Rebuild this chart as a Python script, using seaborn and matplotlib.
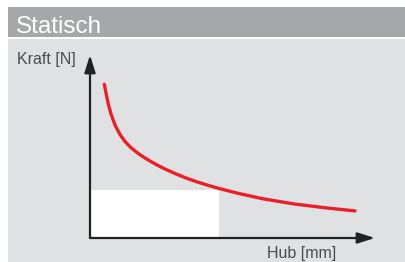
import matplotlib
matplotlib.use('Agg')
import matplotlib.pyplot as plt
from matplotlib.patches import Rectangle
import pandas as pd
import seaborn as sns

# - data (Hub / Kraft, arbitrary units) - #
hub = [14.3, 16, 18.3, 21, 25, 30, 35, 41, 48.3, 55, 61.7, 68, 75, 85, 95,
       105, 117, 128, 148, 172, 203, 237, 265]
kraft = [153.7, 145, 134, 124, 113, 103.5, 96.5, 90.3, 84.5, 80, 76, 72.5, 69,
         64.5, 60.4, 56.8, 53, 49.8, 44.7, 39.4, 34.2, 30, 27.1]

# white box in the lower left corner
box_hub = [0, 129]
box_kraft = [0, 48]

title = 'Statisch'
ylabel = 'Kraft [N]'
xlabel = 'Hub [mm]'

W, H = 405, 262

sns.set_style('white')
plt.rcParams['font.family'] = ['Liberation Sans', 'DejaVu Sans']

fig = plt.figure(figsize=(W / 100, H / 100), dpi=100)
fig.patch.set_facecolor('white')

# header bar and body panel (figure pixels), behind the axes
def px_rect(x0, y0, x1, y1, color):
    fig.patches.append(Rectangle((x0 / W, 1 - y1 / H), (x1 - x0) / W, (y1 - y0) / H,
                                 transform=fig.transFigure, facecolor=color,
                                 edgecolor='none', zorder=-5))

px_rect(8, 7, W, 37, '#a6a7aa')
px_rect(8, 39, W, H, '#e0e1e3')

fig.text(16 / W, 1 - 33 / H, title, color='white', fontsize=17.5, va='baseline', ha='left')

ax = fig.add_axes([90 / W, 24 / H, 285 / W, 183 / H])
ax.patch.set_alpha(0)

ax.add_patch(Rectangle((box_hub[0], box_kraft[0]), box_hub[1] - box_hub[0],
                       box_kraft[1] - box_kraft[0], facecolor='white',
                       edgecolor='none', zorder=1))

df = pd.DataFrame({'Hub': hub, 'Kraft': kraft})
sns.lineplot(data=df, x='Hub', y='Kraft', ax=ax, color='#e8202a', lw=2.4,
             zorder=3, solid_capstyle='round', solid_joinstyle='round')
ax.set_xlim(0, 285)
ax.set_ylim(0, 183)
ax.set_axis_off()

arrow = dict(arrowstyle='-|>,head_length=0.7,head_width=0.22', color='#222222',
             lw=1.6, mutation_scale=15, shrinkA=0, shrinkB=0)
ax.annotate('', xy=(1, 0), xytext=(0, 0), xycoords='axes fraction',
            textcoords='axes fraction', arrowprops=arrow, zorder=4)
ax.annotate('', xy=(0, 1), xytext=(0, 0), xycoords='axes fraction',
            textcoords='axes fraction', arrowprops=arrow, zorder=4)

fig.text(17 / W, 1 - 64 / H, ylabel, color='#4a4a4a', fontsize=11.5, va='baseline', ha='left')
fig.text(267 / W, 1 - 258 / H, xlabel, color='#4a4a4a', fontsize=11.5, va='baseline', ha='left')

fig.savefig('out.png', dpi=100)
